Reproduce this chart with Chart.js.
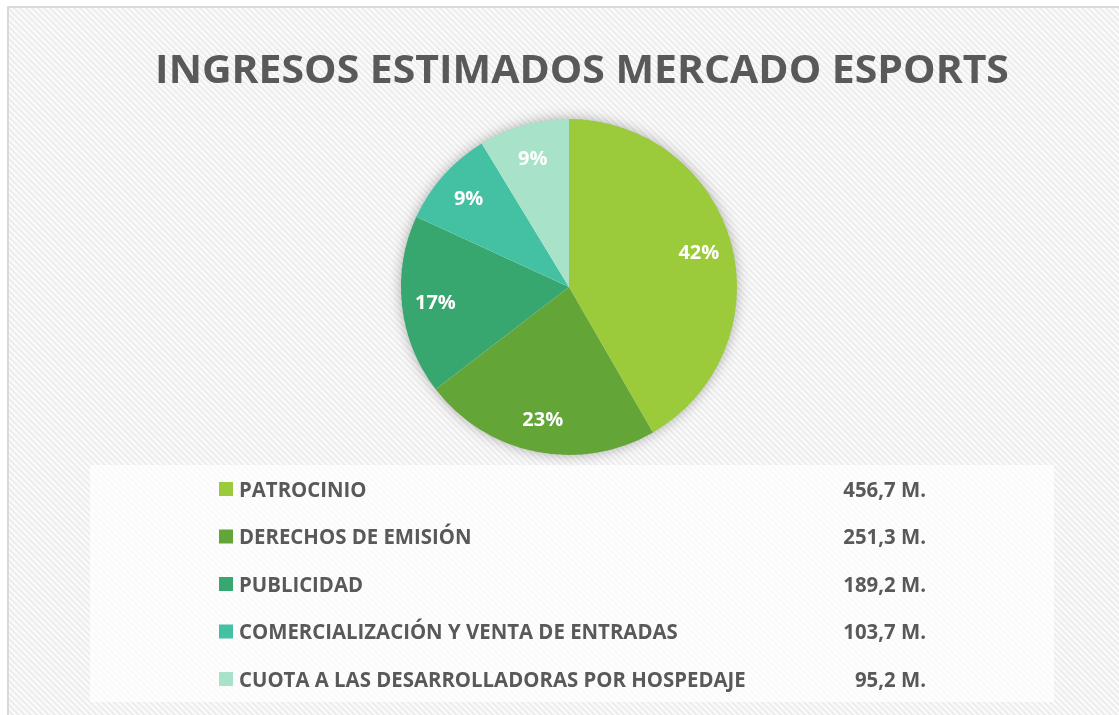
<!DOCTYPE html>
<html>
<head>
<meta charset="utf-8">
<script src="https://cdn.jsdelivr.net/npm/chart.js@4"></script>
<style>
  html, body { margin: 0; padding: 0; background: #ffffff; }
  canvas { display: block; }
</style>
</head>
<body>
<canvas id="esportsChart" width="1119" height="715"></canvas>
<script>
// Datos del gráfico
const chartTitle = 'INGRESOS ESTIMADOS MERCADO ESPORTS';
const categories = [
    'PATROCINIO',
    'DERECHOS DE EMISIÓN',
    'PUBLICIDAD',
    'COMERCIALIZACIÓN Y VENTA DE ENTRADAS',
    'CUOTA A LAS DESARROLLADORAS POR HOSPEDAJE'
];
const revenues = [456.7, 251.3, 189.2, 103.7, 95.2]; // millones
const sliceColors = ['#9BCB3B', '#63A537', '#37A76F', '#44C1A3', '#A8E2C8'];

const textColor = '#595959';
const fontFamily = '"Open Sans", "DejaVu Sans", sans-serif';
const capRatio = 0.714; // altura de mayúsculas de Open Sans

// Fondo rayado (como el de Excel)
function makeHatch() {
    const s = 6;
    const c = document.createElement('canvas');
    c.width = s;
    c.height = s;
    const g = c.getContext('2d');
    g.fillStyle = '#fbfbfb';
    g.fillRect(0, 0, s, s);
    g.strokeStyle = '#ececec';
    g.lineWidth = 2;
    for (let o = -s; o <= s; o += s) {
        g.beginPath();
        g.moveTo(o - 1, -1);
        g.lineTo(o + s + 1, s + 1);
        g.stroke();
    }
    return c;
}

// Fit a bold font size so that text fills a given width
function fitFont(ctx, text, width) {
    ctx.font = 'bold 100px ' + fontFamily;
    const w = ctx.measureText(text).width;
    return 100 * width / w;
}

// Text drawn with a given width-fit font, stretched to a given cap height
function drawStretched(ctx, text, x, baseline, size, capHeight, align) {
    const sy = capHeight / (capRatio * size);
    ctx.save();
    ctx.translate(x, baseline);
    ctx.scale(1, sy);
    ctx.font = 'bold ' + size + 'px ' + fontFamily;
    ctx.textAlign = align;
    ctx.textBaseline = 'alphabetic';
    ctx.fillText(text, 0, 0);
    ctx.restore();
}

const backgroundPlugin = {
    id: 'backgroundPlugin',
    beforeDraw(chart) {
        const ctx = chart.ctx;
        ctx.save();
        ctx.fillStyle = '#ffffff';
        ctx.fillRect(0, 0, chart.width, chart.height);
        ctx.fillStyle = ctx.createPattern(makeHatch(), 'repeat');
        ctx.fillRect(9, 8, chart.width, chart.height);
        ctx.strokeStyle = '#d9d9d9';
        ctx.lineWidth = 2;
        ctx.strokeRect(8, 7, chart.width + 20, chart.height + 20);

        // Caja de la leyenda
        ctx.fillStyle = 'rgba(255,255,255,0.75)';
        ctx.fillRect(90, 465, 964, 237);

        // Título
        const size = fitFont(ctx, chartTitle, 854);
        ctx.fillStyle = textColor;
        drawStretched(ctx, chartTitle, 582, 83, size, 28, 'center');
        ctx.restore();
    }
};

const pieShadowPlugin = {
    id: 'pieShadowPlugin',
    beforeDatasetsDraw(chart) {
        const arc = chart.getDatasetMeta(0).data[0];
        if (!arc) return;
        const ctx = chart.ctx;
        ctx.save();
        ctx.shadowColor = 'rgba(0,0,0,0.35)';
        ctx.shadowBlur = 14;
        ctx.fillStyle = '#ffffff';
        ctx.beginPath();
        ctx.arc(arc.x, arc.y, arc.outerRadius - 1, 0, Math.PI * 2);
        ctx.fill();
        ctx.restore();
    }
};

const percentLabelsPlugin = {
    id: 'percentLabelsPlugin',
    afterDatasetsDraw(chart) {
        const ctx = chart.ctx;
        const data = chart.data.datasets[0].data;
        const total = data.reduce((a, b) => a + b, 0);
        ctx.save();
        ctx.fillStyle = '#ffffff';
        chart.getDatasetMeta(0).data.forEach((arc, i) => {
            const mid = (arc.startAngle + arc.endAngle) / 2;
            const r = arc.outerRadius * 0.8;
            const x = arc.x + Math.cos(mid) * r;
            const y = arc.y + Math.sin(mid) * r;
            drawStretched(ctx, Math.round(data[i] / total * 100) + '%', x, y + 7, 20, 14, 'center');
        });
        ctx.restore();
    }
};

const tableLegendPlugin = {
    id: 'tableLegendPlugin',
    afterDraw(chart) {
        const ctx = chart.ctx;
        const labels = chart.data.labels;
        const data = chart.data.datasets[0].data;
        const colors = chart.data.datasets[0].backgroundColor;
        ctx.save();
        const size = fitFont(ctx, labels[labels.length - 1], 507);
        labels.forEach((label, i) => {
            const y = 489 + i * 47.5;
            ctx.fillStyle = colors[i];
            ctx.fillRect(219, y - 7, 14, 14);
            ctx.fillStyle = textColor;
            drawStretched(ctx, label, 239, y + 7.5, size, 15, 'left');
            drawStretched(ctx, data[i].toFixed(1).replace('.', ',') + ' M.', 926, y + 7.5, size, 15, 'right');
        });
        ctx.restore();
    }
};

const ctx = document.getElementById('esportsChart').getContext('2d');
new Chart(ctx, {
    type: 'pie',
    data: {
        labels: categories,
        datasets: [{
            data: revenues,
            backgroundColor: sliceColors,
            borderWidth: 0,
            hoverOffset: 0
        }]
    },
    options: {
        responsive: false,
        maintainAspectRatio: false,
        animation: false,
        layout: {
            padding: { left: 401, right: 382, top: 119, bottom: 260 }
        },
        plugins: {
            legend: { display: false },
            title: { display: false },
            tooltip: { enabled: false }
        }
    },
    plugins: [backgroundPlugin, pieShadowPlugin, percentLabelsPlugin, tableLegendPlugin]
});
</script>
</body>
</html>
